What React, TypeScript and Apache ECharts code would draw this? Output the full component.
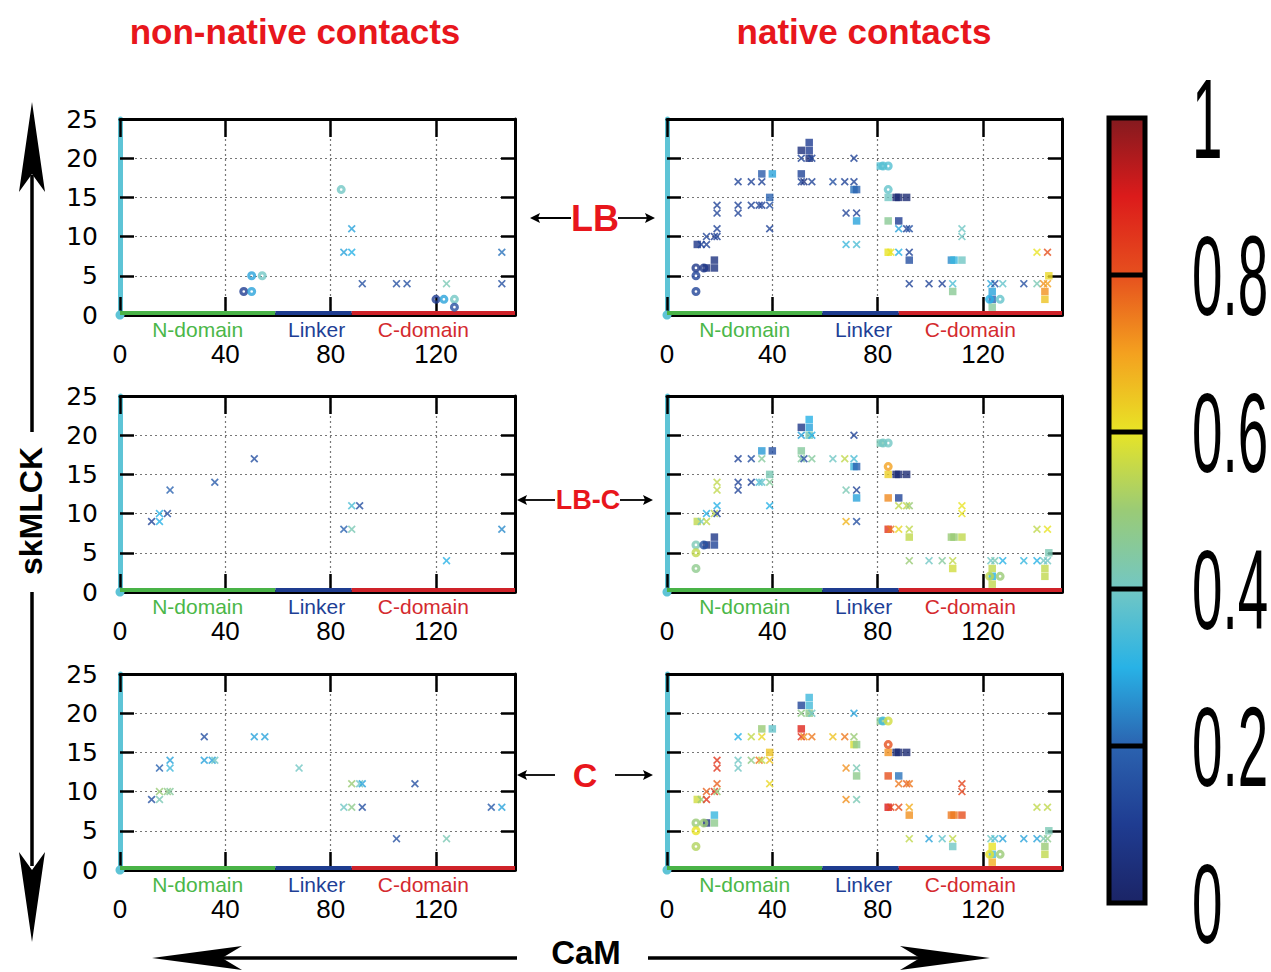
import React, { useEffect, useRef } from "react";
import * as echarts from "echarts";

// ---- axes ----
const X_MAX = 150;
const X_TICK = 40;
const Y_MAX = 25;
const Y_TICK = 5;

// ---- CaM domains along the x axis ----
const DOMAIN_NAMES = ["N-domain", "Linker", "C-domain"];
const DOMAIN_START = [0, 59, 88];
const DOMAIN_END = [59, 88, 150];

// ---- colour scale (value 0 → 1) ----
const COLOR_STOPS = [
  "#1b2466", "#1f3c91", "#2b63b0", "#28b2e6", "#72c7c4", "#9acb76",
  "#e8e426", "#f4a11f", "#e6501e", "#dc1b1b", "#831a1f",
];
const COLORBAR_TICKS = [0, 0.2, 0.4, 0.6, 0.8, 1];

// ---- complexes (rows) ----
const COMPLEXES = ["LB", "LB-C", "C"];

// ---- native contacts: [CaM residue, skMLCK residue, marker] ----
// marker: s = square, x = cross, o = ring
const NATIVE_CONTACTS: [number, number, string][] = [
  [54, 22, "s"], [51, 21, "s"], [54, 21, "s"], [51, 20, "x"], [54, 20, "s"],
  [55, 20, "x"], [71, 20, "x"], [36, 18, "s"], [40, 18, "s"], [51, 18, "s"],
  [27, 17, "x"], [32, 17, "x"], [36, 17, "x"], [51, 17, "x"], [52, 17, "x"],
  [55, 17, "x"], [63, 17, "x"], [67.5, 17, "x"], [71, 17, "x"], [71, 16, "s"],
  [72, 16, "s"], [39, 15, "s"], [19, 14, "x"], [27, 14, "x"], [32, 14, "x"],
  [35, 14, "x"], [36, 14, "x"], [39, 14, "x"], [19, 13, "x"], [27, 13, "x"],
  [68, 13, "x"], [72, 13, "x"], [72, 12, "s"], [19, 11, "x"], [39, 11, "x"],
  [15, 10, "x"], [18, 10, "x"], [19, 10, "x"], [11.5, 9, "s"], [13, 9, "x"],
  [15, 9, "x"], [68, 9, "x"], [72, 9, "x"], [18, 7, "s"], [11, 6, "o"],
  [14, 6, "o"], [15, 6, "s"], [18, 6, "s"], [11, 5, "o"], [11, 3, "o"],
  [81, 19, "s"], [82, 19, "o"], [84, 19, "o"], [84, 16, "o"], [84, 15, "s"],
  [87, 15, "s"], [88, 15, "s"], [91, 15, "s"], [84, 12, "s"], [88, 12, "s"],
  [88, 11, "x"], [91, 11, "x"], [92, 11, "x"], [112, 11, "x"], [112, 10, "x"],
  [84, 8, "s"], [85, 8, "x"], [88, 8, "x"], [92, 8, "x"], [92, 7, "s"],
  [108, 7, "s"], [109, 7, "s"], [112, 7, "s"], [140.5, 8, "x"], [144.5, 8, "x"],
  [145, 5, "s"], [92, 4, "x"], [99.5, 4, "x"], [104.5, 4, "x"], [108.5, 4, "x"],
  [123, 4, "x"], [124.5, 4, "x"], [127.5, 4, "x"], [135.5, 4, "x"], [140.5, 4, "x"],
  [143, 4, "x"], [144.5, 4, "x"], [108.5, 3, "s"], [123.5, 3, "s"], [122.5, 2, "o"],
  [123.5, 2, "s"], [126.5, 2, "o"], [123.5, 1, "s"], [143.5, 3, "s"], [143.5, 2, "s"],
];

// contact values for each complex, same order as NATIVE_CONTACTS
const NATIVE_LB = [
  0.10, 0.05, 0.10, 0.12, 0.05, 0.12, 0.12, 0.18, 0.28, 0.12,
  0.12, 0.12, 0.12, 0.12, 0.06, 0.12, 0.15, 0.12, 0.12, 0.22,
  0.20, 0.20, 0.12, 0.12, 0.12, 0.12, 0.12, 0.15, 0.12, 0.12,
  0.12, 0.12, 0.28, 0.12, 0.12, 0.12, 0.10, 0.12, 0.08, 0.12,
  0.12, 0.33, 0.35, 0.06, 0.08, 0.08, 0.05, 0.06, 0.12, 0.12,
  0.36, 0.36, 0.36, 0.38, 0.40, 0.03, 0.03, 0.03, 0.46, 0.10,
  0.28, 0.12, 0.15, 0.40, 0.40, 0.60, 0.60, 0.30, 0.12, 0.15,
  0.25, 0.32, 0.40, 0.60, 0.80, 0.62, 0.12, 0.12, 0.12, 0.35,
  0.28, 0.15, 0.38, 0.15, 0.42, 0.72, 0.70, 0.46, 0.28, 0.30,
  0.20, 0.38, 0.45, 0.72, 0.65,
];
const NATIVE_LBC = [
  0.30, 0.08, 0.28, 0.28, 0.42, 0.30, 0.12, 0.27, 0.15, 0.45,
  0.12, 0.15, 0.45, 0.45, 0.15, 0.45, 0.40, 0.55, 0.35, 0.33,
  0.20, 0.42, 0.55, 0.12, 0.12, 0.35, 0.38, 0.45, 0.55, 0.12,
  0.42, 0.12, 0.28, 0.30, 0.30, 0.30, 0.55, 0.12, 0.55, 0.40,
  0.55, 0.67, 0.15, 0.08, 0.42, 0.15, 0.05, 0.12, 0.55, 0.47,
  0.42, 0.40, 0.40, 0.70, 0.63, 0.03, 0.03, 0.03, 0.73, 0.12,
  0.55, 0.55, 0.50, 0.60, 0.60, 0.85, 0.75, 0.62, 0.55, 0.55,
  0.50, 0.50, 0.55, 0.55, 0.60, 0.42, 0.50, 0.40, 0.45, 0.55,
  0.40, 0.42, 0.30, 0.32, 0.30, 0.40, 0.40, 0.57, 0.55, 0.55,
  0.30, 0.50, 0.55, 0.55, 0.55,
];
const NATIVE_C = [
  0.33, 0.12, 0.34, 0.48, 0.47, 0.40, 0.28, 0.50, 0.38, 0.88,
  0.30, 0.55, 0.62, 0.85, 0.72, 0.75, 0.65, 0.75, 0.50, 0.58,
  0.47, 0.65, 0.85, 0.40, 0.48, 0.75, 0.55, 0.65, 0.85, 0.40,
  0.72, 0.42, 0.47, 0.78, 0.62, 0.78, 0.85, 0.50, 0.57, 0.50,
  0.85, 0.72, 0.42, 0.32, 0.50, 0.50, 0.05, 0.47, 0.60, 0.53,
  0.47, 0.33, 0.57, 0.80, 0.72, 0.03, 0.03, 0.03, 0.80, 0.22,
  0.75, 0.78, 0.75, 0.82, 0.82, 0.90, 0.82, 0.80, 0.68, 0.72,
  0.75, 0.75, 0.80, 0.55, 0.55, 0.42, 0.55, 0.28, 0.38, 0.55,
  0.40, 0.35, 0.28, 0.28, 0.28, 0.42, 0.47, 0.40, 0.60, 0.60,
  0.35, 0.50, 0.68, 0.50, 0.55,
];

// ---- non-native contacts: [CaM residue, skMLCK residue, marker, value] ----
const NONNATIVE_LB: [number, number, string, number][] = [
  [84, 16, "o", 0.40], [88, 11, "x", 0.28], [85, 8, "x", 0.28], [88, 8, "x", 0.30],
  [92, 4, "x", 0.15], [105, 4, "x", 0.15], [109, 4, "x", 0.15], [124, 4, "x", 0.42],
  [145, 8, "x", 0.22], [145, 4, "x", 0.15], [50, 5, "o", 0.28], [54, 5, "o", 0.40],
  [47, 3, "o", 0.10], [50, 3, "o", 0.28], [120, 2, "o", 0.10], [123, 2, "o", 0.28],
  [127, 2, "o", 0.40], [127, 1, "o", 0.15],
];
const NONNATIVE_LBC: [number, number, string, number][] = [
  [51, 17, "x", 0.15], [36, 14, "x", 0.18], [19, 13, "x", 0.20], [15, 10, "x", 0.30],
  [18, 10, "x", 0.15], [12, 9, "x", 0.12], [15, 9, "x", 0.30], [88, 11, "x", 0.35],
  [91, 11, "x", 0.15], [85, 8, "x", 0.20], [88, 8, "x", 0.42], [145, 8, "x", 0.25],
  [124, 4, "x", 0.30],
];
const NONNATIVE_C: [number, number, string, number][] = [
  [32, 17, "x", 0.15], [51, 17, "x", 0.28], [55, 17, "x", 0.28], [19, 14, "x", 0.28],
  [32, 14, "x", 0.28], [35, 14, "x", 0.28], [36, 14, "x", 0.40], [15, 13, "x", 0.20],
  [19, 13, "x", 0.33], [68, 13, "x", 0.40], [15, 10, "x", 0.50], [18, 10, "x", 0.48],
  [19, 10, "x", 0.45], [12, 9, "x", 0.15], [15, 9, "x", 0.42], [88, 11, "x", 0.50],
  [91, 11, "x", 0.40], [92, 11, "x", 0.28], [112, 11, "x", 0.15], [85, 8, "x", 0.40],
  [88, 8, "x", 0.47], [92, 8, "x", 0.15], [105, 4, "x", 0.15], [124, 4, "x", 0.42],
  [141, 8, "x", 0.18], [145, 8, "x", 0.28],
];

// ---------------------------------------------------------------------------

const withValues = (values: number[]) =>
  NATIVE_CONTACTS.map((c, i) => [c[0], c[1], c[2], values[i]] as [number, number, string, number]);

// panels, row by row: [non-native, native]
const PANELS = [
  NONNATIVE_LB, withValues(NATIVE_LB),
  NONNATIVE_LBC, withValues(NATIVE_LBC),
  NONNATIVE_C, withValues(NATIVE_C),
];

const COL_LEFT = [120, 667];
const ROW_TOP = [119, 396, 674];
const GRID_W = 395;
const GRID_H = 196;

const BAND_COLORS = ["#49b347", "#1e3c8f", "#cf2229"];
const DOMAIN_TEXT = ["#4bb748", "#1e3f96", "#d42a2e"];
const DOMAIN_LABEL_SHIFT = [0, 3, -10];
const BAND_HEIGHT = 0.5;

const CROSS_PATH =
  "path://M0,1.5L1.5,0L5,3.5L8.5,0L10,1.5L6.5,5L10,8.5L8.5,10L5,6.5L1.5,10L0,8.5L3.5,5Z";
const RING_PATH =
  "path://M5,0A5,5,0,1,1,5,10A5,5,0,1,1,5,0ZM5,3.5A1.5,1.5,0,1,0,5,6.5A1.5,1.5,0,1,0,5,3.5Z";
const MARKERS = ["s", "x", "o"];
const MARKER_SYMBOL: Record<string, string> = { s: "rect", x: CROSS_PATH, o: RING_PATH };
const MARKER_SIZE: Record<string, number> = { s: 7.5, x: 8, o: 9 };

const RED = "#e8161c";
const CYAN_AXIS = "#5ec4d6";
const SANS = "Liberation Sans, Arial, sans-serif";

function arrowHead(tipX: number, tipY: number, dir: number, len: number, half: number) {
  // dir: +1 points right, -1 points left
  const bx = tipX - dir * len;
  return {
    type: "polygon",
    shape: { points: [[tipX, tipY], [bx, tipY - half], [bx + dir * len * 0.2, tipY], [bx, tipY + half]] },
    style: { fill: "#000" },
  };
}

function smallArrow(fromX: number, tipX: number, y: number) {
  const dir = tipX > fromX ? 1 : -1;
  return [
    { type: "line", shape: { x1: fromX, y1: y, x2: tipX - dir * 6, y2: y }, style: { stroke: "#000", lineWidth: 1.8 } },
    arrowHead(tipX, y, dir, 10, 5),
  ];
}

function buildOption() {
  const grid: any[] = [];
  const xAxis: any[] = [];
  const yAxis: any[] = [];
  const series: any[] = [];

  PANELS.forEach((points, g) => {
    const col = g % 2;
    const row = Math.floor(g / 2);
    grid.push({ left: COL_LEFT[col], top: ROW_TOP[row], width: GRID_W, height: GRID_H });

    const dotted = { show: true, lineStyle: { color: "#777", width: 1.2, type: [2, 3] } };
    const tick = (length: number) => ({ inside: true, length, lineStyle: { color: "#000", width: 2.5 } });
    xAxis.push({
      gridIndex: g, type: "value", min: 0, max: X_MAX, interval: X_TICK,
      axisLine: { onZero: false, lineStyle: { color: "#000", width: 4 } },
      axisTick: tick(18),
      axisLabel: { fontSize: 26, lineHeight: 22, color: "#000", fontFamily: SANS, margin: 28, showMaxLabel: false },
      splitLine: dotted,
    });
    xAxis.push({
      gridIndex: g, type: "value", position: "top", min: 0, max: X_MAX, interval: X_TICK,
      axisLine: { onZero: false, lineStyle: { color: "#000", width: 3 } },
      axisTick: tick(18),
      axisLabel: { show: false }, splitLine: { show: false },
    });
    yAxis.push({
      gridIndex: g, type: "value", min: 0, max: Y_MAX, interval: Y_TICK,
      axisLine: { onZero: false, lineStyle: { color: CYAN_AXIS, width: 5 }, symbol: ["circle", "none"], symbolSize: [9, 9] },
      axisTick: tick(14),
      axisLabel: { show: col === 0, fontSize: 25, lineHeight: 22, color: "#000", fontFamily: "DejaVu Sans, sans-serif", margin: 22 },
      splitLine: dotted,
    });
    yAxis.push({
      gridIndex: g, type: "value", position: "right", min: 0, max: Y_MAX, interval: Y_TICK,
      axisLine: { onZero: false, lineStyle: { color: "#000", width: 3 } },
      axisTick: tick(14),
      axisLabel: { show: false }, splitLine: { show: false },
    });

    MARKERS.forEach((m) => {
      const s: any = {
        type: "scatter",
        xAxisIndex: 2 * g,
        yAxisIndex: 2 * g,
        symbol: MARKER_SYMBOL[m],
        symbolSize: MARKER_SIZE[m],
        data: points.filter((p) => p[2] === m).map((p) => [p[0], p[1], p[3]]),
        emphasis: { disabled: true },
      };
      if (m === "x") {
        s.markArea = {
          silent: true,
          label: { position: "bottom", distance: 5, fontSize: 21, lineHeight: 18, fontFamily: SANS },
          data: DOMAIN_NAMES.map((name, i) => [
            {
              name, xAxis: DOMAIN_START[i], yAxis: 0,
              itemStyle: { color: BAND_COLORS[i], opacity: 1 },
              label: { color: DOMAIN_TEXT[i], offset: [DOMAIN_LABEL_SHIFT[i], 0] },
            },
            { xAxis: DOMAIN_END[i], yAxis: BAND_HEIGHT },
          ]),
        };
      }
      series.push(s);
    });
  });

  // colour bar
  const cbX = 1109, cbY = 118, cbW = 36, cbH = 785;
  const cbStops = COLOR_STOPS.map((c, i) => ({ offset: 1 - i / (COLOR_STOPS.length - 1), color: c })).reverse();
  const graphic: any[] = [
    { type: "rect", shape: { x: cbX, y: cbY, width: cbW, height: cbH },
      style: { fill: { type: "linear", x: 0, y: 0, x2: 0, y2: 1, colorStops: cbStops }, stroke: "#000", lineWidth: 5 } },
  ];
  COLORBAR_TICKS.forEach((v) => {
    const y = cbY + (1 - v) * cbH;
    if (v > 0 && v < 1) {
      graphic.push({ type: "line", shape: { x1: cbX, y1: y, x2: cbX + cbW, y2: y }, style: { stroke: "#000", lineWidth: 5 } });
    }
    graphic.push({
      type: "text", x: 1192, y, scaleX: 0.48,
      style: { text: String(v), fontSize: 114, lineHeight: 100, fontFamily: SANS, fill: "#000", align: "left", verticalAlign: "middle" },
    });
  });

  // titles
  graphic.push(
    { type: "text", x: 295, y: 31, style: { text: "non-native contacts", fontSize: 35, fontWeight: "bold", fontFamily: SANS, fill: RED, align: "center", verticalAlign: "middle" } },
    { type: "text", x: 864, y: 31, style: { text: "native contacts", fontSize: 35, fontWeight: "bold", fontFamily: SANS, fill: RED, align: "center", verticalAlign: "middle" } },
  );

  // row labels between the two columns
  const rowLabel = [
    { cx: 595, y: 218, size: 36, left: [571, 530], right: [618, 655] },
    { cx: 588, y: 500, size: 27, left: [555, 517], right: [620, 653] },
    { cx: 585, y: 775, size: 34, left: [555, 517], right: [615, 653] },
  ];
  rowLabel.forEach((r, i) => {
    graphic.push({ type: "text", x: r.cx, y: r.y, style: { text: COMPLEXES[i], fontSize: r.size, fontWeight: "bold", fontFamily: SANS, fill: RED, align: "center", verticalAlign: "middle" } });
    graphic.push(...smallArrow(r.left[0], r.left[1], r.y), ...smallArrow(r.right[0], r.right[1], r.y));
  });

  // skMLCK axis arrow (vertical)
  graphic.push(
    { type: "line", shape: { x1: 32, y1: 175, x2: 32, y2: 432 }, style: { stroke: "#000", lineWidth: 3.5 } },
    { type: "polygon", shape: { points: [[32, 102], [45, 192], [32, 174], [19, 192]] }, style: { fill: "#000" } },
    { type: "line", shape: { x1: 32, y1: 592, x2: 32, y2: 866 }, style: { stroke: "#000", lineWidth: 3.5 } },
    { type: "polygon", shape: { points: [[32, 942], [45, 852], [32, 870], [19, 852]] }, style: { fill: "#000" } },
    { type: "text", x: 31, y: 511, rotation: Math.PI / 2, style: { text: "skMLCK", fontSize: 32, fontWeight: "bold", fontFamily: SANS, fill: "#000", align: "center", verticalAlign: "middle" } },
  );

  // CaM axis arrow (horizontal)
  graphic.push(
    { type: "line", shape: { x1: 222, y1: 958, x2: 517, y2: 958 }, style: { stroke: "#000", lineWidth: 3.5 } },
    { type: "polygon", shape: { points: [[152, 958], [242, 946], [222, 958], [242, 970]] }, style: { fill: "#000" } },
    { type: "line", shape: { x1: 648, y1: 958, x2: 920, y2: 958 }, style: { stroke: "#000", lineWidth: 3.5 } },
    { type: "polygon", shape: { points: [[990, 958], [900, 946], [920, 958], [900, 970]] }, style: { fill: "#000" } },
    { type: "text", x: 586, y: 952, style: { text: "CaM", fontSize: 33, lineHeight: 28, fontWeight: "bold", fontFamily: SANS, fill: "#000", align: "center", verticalAlign: "middle" } },
  );

  return {
    animation: false,
    backgroundColor: "#fff",
    grid, xAxis, yAxis, series, graphic,
    visualMap: { show: false, type: "continuous", min: 0, max: 1, dimension: 2, inRange: { color: COLOR_STOPS } },
  };
}

export default function App() {
  const ref = useRef<HTMLDivElement>(null);
  useEffect(() => {
    if (!ref.current) return;
    const chart = echarts.init(ref.current, undefined, { renderer: "svg" });
    chart.setOption(buildOption() as any);
    return () => chart.dispose();
  }, []);
  return <div ref={ref} style={{ position: "absolute", left: 0, top: 0, width: 1271, height: 972 }} />;
}
